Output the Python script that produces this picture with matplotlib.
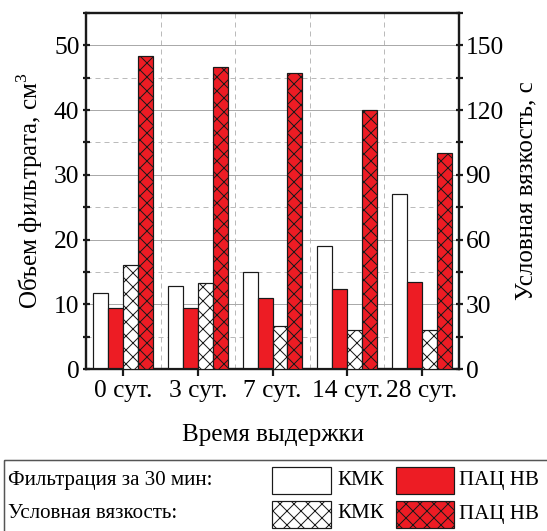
import matplotlib
matplotlib.use("Agg")
import matplotlib.pyplot as plt
from matplotlib.patches import Rectangle
from matplotlib.ticker import MultipleLocator, FixedLocator
import numpy as np

# ---- data ----
days = ['0 сут.', '3 сут.', '7 сут.', '14 сут.', '28 сут.']
filt_kmk = [11.8, 12.9, 15.0, 19.0, 27.0]      # фильтрация за 30 мин, см3
filt_pac = [9.4, 9.4, 10.9, 12.4, 13.5]
visc_kmk = [48, 40, 20, 18, 18]                # условная вязкость, с
visc_pac = [145, 140, 137, 120, 100]

DPI = 84
W, H = 547, 531
PT = 72.0 / DPI          # pixels -> points

RED = '#ED1C24'
DARK = '#1a1a1a'
FONT = 'Liberation Serif'
plt.rcParams['font.family'] = [FONT, 'DejaVu Serif']
plt.rcParams['mathtext.fontset'] = 'custom'
plt.rcParams['mathtext.rm'] = FONT
plt.rcParams['hatch.linewidth'] = 1.0 * PT
plt.rcParams['hatch.color'] = DARK

fig = plt.figure(figsize=(W / DPI, H / DPI), dpi=DPI)
ax = fig.add_axes([86 / W, 1 - 369 / H, (459 - 86) / W, (369 - 13) / H])
ax2 = ax.twinx()

x = np.arange(len(days))
bw = 0.2
edge = dict(edgecolor=DARK, linewidth=1.2 * PT)

ax.bar(x - 1.5 * bw, filt_kmk, bw, color='white', zorder=3, **edge)
ax.bar(x - 0.5 * bw, filt_pac, bw, color=RED, zorder=3, **edge)
ax2.bar(x + 0.5 * bw, visc_kmk, bw, color='white', hatch='xx', zorder=3, **edge)
ax2.bar(x + 1.5 * bw, visc_pac, bw, color=RED, hatch='xx', zorder=3, **edge)

ax.set_xlim(-0.5, len(days) - 0.5)
ax.set_ylim(0, 55)
ax2.set_ylim(0, 165)

ax.yaxis.set_major_locator(MultipleLocator(10))
ax.yaxis.set_minor_locator(MultipleLocator(5))
ax2.yaxis.set_major_locator(MultipleLocator(30))
ax2.yaxis.set_minor_locator(MultipleLocator(15))
ax.set_xticks(x)
ax.set_xticklabels(days)
ax.xaxis.set_minor_locator(FixedLocator(x[:-1] + 0.5))

# grid
ax.set_axisbelow(True)
ax.grid(True, which='major', axis='y', color='#aaaaaa', linewidth=1.0 * PT, linestyle='-')
ax.grid(True, which='minor', axis='y', color='#bbbbbb', linewidth=1.0 * PT, linestyle=(0, (5, 4)))
ax.grid(True, which='minor', axis='x', color='#bbbbbb', linewidth=1.0 * PT, linestyle=(0, (5, 4)))

fs_tick = 25.5 * PT
fs_lab = 25 * PT
lw_spine = 2.2 * PT
for a in (ax, ax2):
    for s in a.spines.values():
        s.set_linewidth(lw_spine)
        s.set_color(DARK)
for a in (ax, ax2):
    a.tick_params(axis='y', which='both', direction='inout', length=7 * PT, width=lw_spine,
                  labelsize=fs_tick, pad=3 * PT, color=DARK)
ax.tick_params(axis='x', which='major', direction='out', length=7 * PT, width=lw_spine,
               labelsize=fs_tick, pad=4 * PT, color=DARK)
ax.tick_params(axis='x', which='minor', length=0)

ax.set_ylabel('Объем фильтрата, см$^3$', fontsize=fs_lab)
ax.yaxis.set_label_coords((45 - 86) / 373, 0.5)
ax2.set_ylabel('Условная вязкость, с', fontsize=fs_lab)
ax2.yaxis.set_label_coords((515 - 86) / 373, 0.5)
ax.set_xlabel('Время выдержки', fontsize=fs_lab, va='center')
ax.xaxis.set_label_coords(0.5, (369 - 435) / 356)

# ---- legend panel drawn in pixel coordinates ----
lg = fig.add_axes([0, 0, 1, 1])
lg.set_xlim(0, W)
lg.set_ylim(H, 0)
lg.axis('off')
lg.add_patch(Rectangle((4, 460), 700, 200, facecolor='none', edgecolor='#555555', linewidth=1.5 * PT))

fs_leg = 21 * PT
rows = [(480.5, 'Фильтрация за 30 мин:', None), (514, 'Условная вязкость:', 'xx')]
for yc, label, hatch in rows:
    lg.text(8, yc, label, fontsize=fs_leg, va='center', ha='left')
    lg.add_patch(Rectangle((272, yc - 13.5), 59, 27, facecolor='white', hatch=hatch, **edge))
    lg.text(337, yc, 'КМК', fontsize=fs_leg, va='center', ha='left')
    lg.add_patch(Rectangle((396, yc - 13.5), 58, 27, facecolor=RED, hatch=hatch, **edge))
    lg.text(459, yc, 'ПАЦ НВ', fontsize=fs_leg, va='center', ha='left')

fig.savefig('out.png', dpi=DPI)
